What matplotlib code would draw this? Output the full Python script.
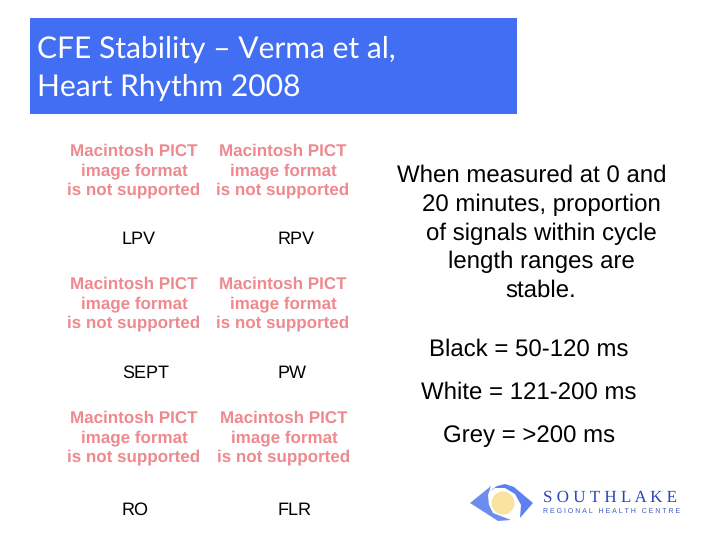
import matplotlib
matplotlib.use("Agg")
import matplotlib.pyplot as plt
from matplotlib.patches import Rectangle, Ellipse, Polygon

TITLE_LINES = ["CFE Stability – Verma et al,", "Heart Rhythm 2008"]
PLACEHOLDER = ["Macintosh PICT", "image format", "is not supported"]
PANEL_LABELS = ["LPV", "RPV", "SEPT", "PW", "RO", "FLR"]
BODY_LINES = ["When measured at 0 and", "20 minutes, proportion", "of signals within cycle",
              "length ranges are", "stable."]
LEGEND_LINES = ["Black = 50-120 ms", "White = 121-200 ms", "Grey = >200 ms"]
LOGO_NAME = "S O U T H L A K E"
LOGO_SUB = "R E G I O N A L   H E A L T H   C E N T R E"

plt.rcParams['font.family'] = ['Liberation Sans', 'DejaVu Sans']
plt.rcParams['text.hinting'] = 'no_hinting'
plt.rcParams['text.hinting_factor'] = 1
fig = plt.figure(figsize=(7.2, 5.4), dpi=100)
ax = fig.add_axes([0, 0, 1, 1])
ax.set_xlim(0, 720)
ax.set_ylim(540, 0)
ax.axis('off')

# Title banner
ax.add_patch(Rectangle((30, 18), 487, 96, facecolor='#426EF4', edgecolor='none'))
for y, line in zip([49, 87], TITLE_LINES):
    ax.text(37, y, line, color='white', fontsize=21.7, family=['Lato', 'DejaVu Sans'],
            va='center', ha='left')

# Placeholders
place_x = [[134, 283], [134, 283], [134, 284]]
place_y = [[151, 171, 190], [284, 304, 323], [418, 438, 457]]
for xs, ys in zip(place_x, place_y):
    for x in xs:
        for y, line in zip(ys, PLACEHOLDER):
            ax.text(x, y, line, color='#EE8A8F', fontsize=12.4, fontweight='bold',
                    ha='center', va='center')

# Panel labels
label_x = [122, 278, 122, 278, 122, 278]
label_y = [239, 239, 373, 373, 510, 510]
for x, y, t in zip(label_x, label_y, PANEL_LABELS):
    ax.text(x, y, t, color='black', fontsize=13.2, ha='left', va='center')

# Body
for x, y, t in zip([532, 541, 541, 541, 541], [176, 205, 234, 262, 291], BODY_LINES):
    ax.text(x, y, t, color='black', fontsize=17.1, ha='center', va='center')
for x, y, t in zip([529, 529, 529], [350, 393, 436], LEGEND_LINES):
    ax.text(x, y, t, color='black', fontsize=17.1, ha='center', va='center')

# Logo
ax.add_patch(Polygon([[470, 503], [491, 486], [488, 495], [489, 505], [493, 513], [511, 520], [498, 521]],
                     facecolor='#6C8CF0', edgecolor='none'))
ax.add_patch(Polygon([[488, 492], [497, 486], [505, 484], [514, 487], [533, 503], [520, 518],
                      [521, 505], [515, 494], [505, 488], [495, 488]],
                     facecolor='#5C80F0', edgecolor='none'))
ax.add_patch(Ellipse((503, 503), 23, 23, facecolor='#F8E4A0', edgecolor='none'))
ax.text(543, 498, LOGO_NAME, color='#2A45B8', fontsize=12,
        family=['Liberation Serif'], ha='left', va='center')
ax.text(543, 511, LOGO_SUB, color='#3A55C0', fontsize=5, ha='left', va='center')

fig.savefig('out.png', dpi=100)
